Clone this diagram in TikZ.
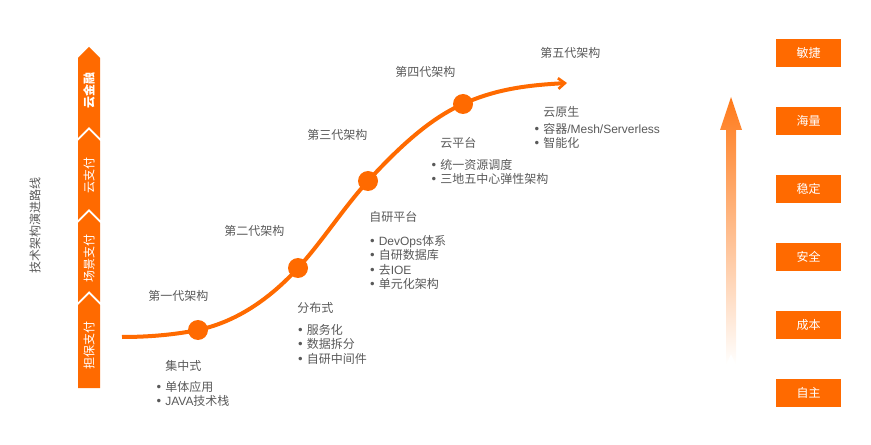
\documentclass[tikz,border=0pt]{standalone}
\usepackage{fontspec}
\setmainfont{Noto Sans CJK SC}
\newfontfamily\enfont{Liberation Sans}
\newfontfamily\dotfont{DejaVu Sans}
\usepackage{tikz}
\usetikzlibrary{arrows.meta,positioning}
\definecolor{aliorange}{HTML}{FF6A00}
\definecolor{arrowtop}{HTML}{FF7A1A}
\definecolor{textgray}{HTML}{595959}
\newcommand{\itm}{\makebox[7.5pt][l]{{\dotfont\small •}}}

\begin{document}
\begin{tikzpicture}[
    x=0.75pt, y=-0.75pt,
    gentext/.style={anchor=west, inner sep=0pt, text=textgray, font=\fontsize{9}{11}\selectfont},
    itemlist/.style={anchor=north west, inner sep=0pt, align=left, text=textgray, font=\fontsize{9}{10.9}\selectfont},
    pillartext/.style={rotate=90, inner sep=0pt, text=white, font=\fontsize{9}{11}\selectfont},
    goalbox/.style={rectangle, fill=aliorange, minimum width=48.75pt, minimum height=21pt, inner sep=0pt, text=white, font=\fontsize{9}{11}\selectfont},
    dot/.style={circle, fill=aliorange, minimum size=15pt, inner sep=0pt},
    curve/.style={aliorange, line width=3pt, -{Straight Barb[length=5pt, width=8pt, line width=2pt]}}
]
\useasboundingbox (0,0) rectangle (871,445);

% left pillar
\fill[aliorange] (78,58) -- (89,47) -- (100,58) -- (100,138) -- (89,127) -- (78,138) -- cycle;
\fill[aliorange] (78,141) -- (89,130) -- (100,141) -- (100,220) -- (89,209) -- (78,220) -- cycle;
\fill[aliorange] (78,223) -- (89,212) -- (100,223) -- (100,302) -- (89,291) -- (78,302) -- cycle;
\fill[aliorange] (78,305) -- (89,294) -- (100,305) -- (100,388) -- (78,388) -- cycle;
\node[pillartext, font=\fontsize{9}{11}\selectfont\bfseries] (p1) at (89,91) {云金融};
\node[pillartext] (p2) at (89,176) {云支付};
\node[pillartext] (p3) at (89,259) {场景支付};
\node[pillartext] (p4) at (89,345) {担保支付};
\node[pillartext, text=textgray] (side) at (35,226) {技术架构演进路线};

% evolution curve
\coordinate (start) at (122,337);
\coordinate (tip) at (567,83);
\node[dot] (d1) at (198,330) {};
\node[dot] (d2) at (298,268) {};
\node[dot] (d3) at (368,181) {};
\node[dot] (d4) at (463,104) {};
\draw[curve] (start) .. controls (147,337) and (173,335) .. (d1.center)
    .. controls (231,323) and (265,304) .. (d2.center)
    .. controls (321,243) and (345,206) .. (d3.center)
    .. controls (400,146) and (431,118) .. (d4.center)
    .. controls (498,88) and (532,85) .. (tip);

% generations
\node[gentext] (gen1) at (148,296) {第一代架构};
\node[gentext] (gen2) at (224,231) {第二代架构};
\node[gentext] (gen3) at (307,135) {第三代架构};
\node[gentext] (gen4) at (395,72) {第四代架构};
\node[gentext] (gen5) at (540,53) {第五代架构};

\node[gentext] (c1) at (165,366) {集中式};
\node[itemlist] (l1) at (155,381) {\itm 单体应用\\\itm {\enfont JAVA}技术栈};
\node[gentext] (c2) at (297,308) {分布式};
\node[itemlist] (l2) at (296.5,324) {\itm 服务化\\\itm 数据拆分\\\itm 自研中间件};
\node[gentext] (c3) at (369,217) {自研平台};
\node[itemlist] (l3) at (368.5,235) {\itm {\enfont DevOps}体系\\\itm 自研数据库\\\itm 去{\enfont IOE}\\\itm 单元化架构};
\node[gentext] (c4) at (440,143) {云平台};
\node[itemlist] (l4) at (430,159) {\itm 统一资源调度\\\itm 三地五中心弹性架构};
\node[gentext] (c5) at (543,112) {云原生};
\node[itemlist] (l5) at (533,123) {\itm 容器{\enfont /Mesh/Serverless}\\\itm 智能化};

% goals
\shade[top color=arrowtop, middle color=arrowtop!50, bottom color=white]
    (731,97) -- (742,130) -- (736,130) -- (736,365) -- (731,354) -- (726,365) -- (726,130) -- (720,130) -- cycle;
\node[goalbox] (g1) at (808.5,53) {敏捷};
\node[goalbox] (g2) at (808.5,121) {海量};
\node[goalbox] (g3) at (808.5,189) {稳定};
\node[goalbox] (g4) at (808.5,257) {安全};
\node[goalbox] (g5) at (808.5,325) {成本};
\node[goalbox] (g6) at (808.5,393) {自主};
\end{tikzpicture}
\end{document}
